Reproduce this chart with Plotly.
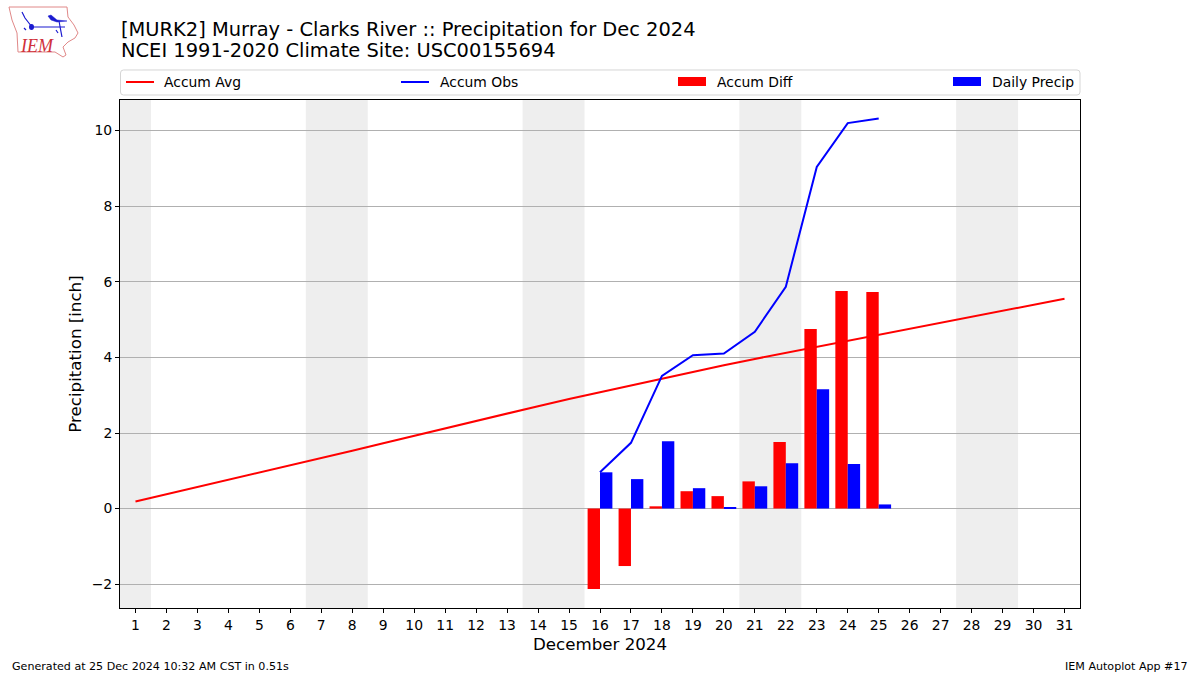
"""IEM Autoplot 17 style monthly precipitation chart for MURK2, Dec 2024."""

import plotly.graph_objects as go

days = list(range(1, 32))
accum_avg = [0.19, 0.38, 0.57, 0.76, 0.95, 1.14, 1.33, 1.53, 1.73, 1.93, 2.12, 2.32, 2.52, 2.71, 2.90, 3.08,
             3.27, 3.45, 3.62, 3.79, 3.96, 4.12, 4.28, 4.44, 4.60, 4.76, 4.91, 5.07, 5.23, 5.39, 5.55]
obs_days = [16, 17, 18, 19, 20, 21, 22, 23, 24, 25]
accum_obs = [0.96, 1.74, 3.51, 4.06, 4.10, 4.68, 5.87, 9.04, 10.20, 10.32]
accum_diff = [-2.13, -1.52, 0.06, 0.46, 0.33, 0.72, 1.76, 4.75, 5.76, 5.73]
daily_precip = [0.96, 0.78, 1.78, 0.54, 0.03, 0.59, 1.20, 3.16, 1.18, 0.11]
weekend_start = [0.5, 6.5, 13.5, 20.5, 27.5]
weekend_end = [1.5, 8.5, 15.5, 22.5, 29.5]
y_ticks = [-2, 0, 2, 4, 6, 8, 10]

FONT = "DejaVu Sans"
WIDTH, HEIGHT = 1200, 675
LEFT, RIGHT, TOP, BOTTOM = 120, 1080, 100, 608


def px(x):
    return (x - LEFT) / (RIGHT - LEFT)


def py(y):
    return (BOTTOM - y) / (BOTTOM - TOP)


def path(points, close=False):
    text = " ".join(f"{'M' if i == 0 else 'L'} {px(x):.5f} {py(y):.5f}" for i, (x, y) in enumerate(points))
    return text + (" Z" if close else "")


def add_text(fig, text, x, y, size, xanchor="left", color="black", family=FONT):
    fig.add_annotation(text=text, x=px(x), y=py(y), xref="paper", yref="paper", showarrow=False,
                       xanchor=xanchor, yanchor="middle", borderpad=0, borderwidth=0,
                       font=dict(family=family, size=size, color=color))


def add_path(fig, points, color, width=1, fill=None, close=False):
    fig.add_shape(type="path", xref="paper", yref="paper", path=path(points, close),
                  line=dict(color=color, width=width), fillcolor=fill)


fig = go.Figure()
fig.add_trace(go.Bar(x=obs_days, y=accum_diff, width=0.4, offset=-0.4, marker_color="red",
                     marker_line_width=0, name="Accum Diff"))
fig.add_trace(go.Bar(x=obs_days, y=daily_precip, width=0.4, offset=0, marker_color="blue",
                     marker_line_width=0, name="Daily Precip"))
fig.add_trace(go.Scatter(x=days, y=accum_avg, mode="lines", line=dict(color="red", width=2), name="Accum Avg"))
fig.add_trace(go.Scatter(x=obs_days, y=accum_obs, mode="lines", line=dict(color="blue", width=2), name="Accum Obs"))

for start, end in zip(weekend_start, weekend_end):
    fig.add_vrect(x0=start, x1=end, fillcolor="#eeeeee", line_width=0, layer="below")

# titles and footer
add_text(fig, "[MURK2] Murray - Clarks River :: Precipitation for Dec 2024", 120.5, 29, 19.44)
add_text(fig, "NCEI 1991-2020 Climate Site: USC00155694", 120.5, 51, 19.44)
add_text(fig, "Generated at 25 Dec 2024 10:32 AM CST in 0.51s", 12, 666, 11.1)
add_text(fig, "IEM Autoplot App #17", 1188, 666, 11.1, xanchor="right")

# legend row, laid out like the original with four wide columns
r = 3
fig.add_shape(type="path", xref="paper", yref="paper", line=dict(color="#d5d5d5", width=1),
              path=(f"M {px(120.5 + r):.5f} {py(70):.5f} L {px(1080 - r):.5f} {py(70):.5f} "
                    f"Q {px(1080):.5f} {py(70):.5f} {px(1080):.5f} {py(70 + r):.5f} "
                    f"L {px(1080):.5f} {py(95 - r):.5f} Q {px(1080):.5f} {py(95):.5f} {px(1080 - r):.5f} {py(95):.5f} "
                    f"L {px(120.5 + r):.5f} {py(95):.5f} Q {px(120.5):.5f} {py(95):.5f} {px(120.5):.5f} {py(95 - r):.5f} "
                    f"L {px(120.5):.5f} {py(70 + r):.5f} Q {px(120.5):.5f} {py(70):.5f} {px(120.5 + r):.5f} {py(70):.5f} Z"))
add_path(fig, [(126, 82), (154, 82)], "red", 2)
add_text(fig, "Accum Avg", 164, 82, 13.9)
add_path(fig, [(401, 82), (429, 82)], "blue", 2)
add_text(fig, "Accum Obs", 440, 82, 13.9)
add_path(fig, [(678, 77), (706, 77), (706, 86), (678, 86)], "red", 0, "red", True)
add_text(fig, "Accum Diff", 717, 82, 13.9)
add_path(fig, [(953, 77), (981, 77), (981, 86), (953, 86)], "blue", 0, "blue", True)
add_text(fig, "Daily Precip", 992, 82, 13.9)

# IEM logo
add_path(fig, [(9, 7), (67, 7), (68, 17), (74, 25), (78, 33), (75, 38), (68, 42), (63, 47), (66, 55), (63, 57),
               (55, 52), (18, 52), (17, 33), (12, 20)], "#e08888", 1, None, True)
add_path(fig, [(22, 12), (25, 18), (32, 27), (65, 27)], "#1a1ad0", 1.2)
add_path(fig, [(48, 16), (51, 15), (57, 20), (67, 21), (57, 22), (51, 20)], "#1a1ad0", 0.5, "#1a1ad0", True)
fig.add_shape(type="circle", xref="paper", yref="paper", x0=px(29), x1=px(34), y0=py(24), y1=py(30),
              line_width=0, fillcolor="#1a1ad0")
add_path(fig, [(59, 21), (62, 37)], "#1a1ad0", 1.2)
add_path(fig, [(24, 28), (26, 30)], "#1a1ad0", 1.2)
add_path(fig, [(56, 30), (58, 33)], "#1a1ad0", 1.2)
add_text(fig, "<i>IEM</i>", 20, 46, 18, color="#d0303a", family="Liberation Serif")

fig.update_layout(
    width=WIDTH,
    height=HEIGHT,
    margin=dict(l=LEFT, r=WIDTH - RIGHT, t=TOP, b=HEIGHT - BOTTOM, pad=0),
    paper_bgcolor="white",
    plot_bgcolor="white",
    barmode="overlay",
    showlegend=False,
    font=dict(family=FONT, size=13.9, color="black"),
)
fig.update_xaxes(
    range=[0.5, 31.5], tickmode="array", tickvals=days, ticktext=[str(d) for d in days], ticks="outside",
    ticklen=4, tickcolor="black", showgrid=False, zeroline=False, showline=True, mirror=True,
    linecolor="black", linewidth=1, title=dict(text="December 2024", font=dict(size=16.67), standoff=6),
)
fig.update_yaxes(
    range=[-2.63, 10.81], tickmode="array", tickvals=y_ticks, ticks="outside", ticklen=4, tickcolor="black",
    showgrid=True, gridcolor="#b0b0b0", gridwidth=1, zeroline=False, showline=True, mirror=True,
    linecolor="black", linewidth=1, title=dict(text="Precipitation [inch]", font=dict(size=16.67), standoff=5),
)

# the page's default body margin would push the figure 8px off
fig.write_html("out.html", config={"displayModeBar": False}, post_script="document.body.style.margin = '0';")
